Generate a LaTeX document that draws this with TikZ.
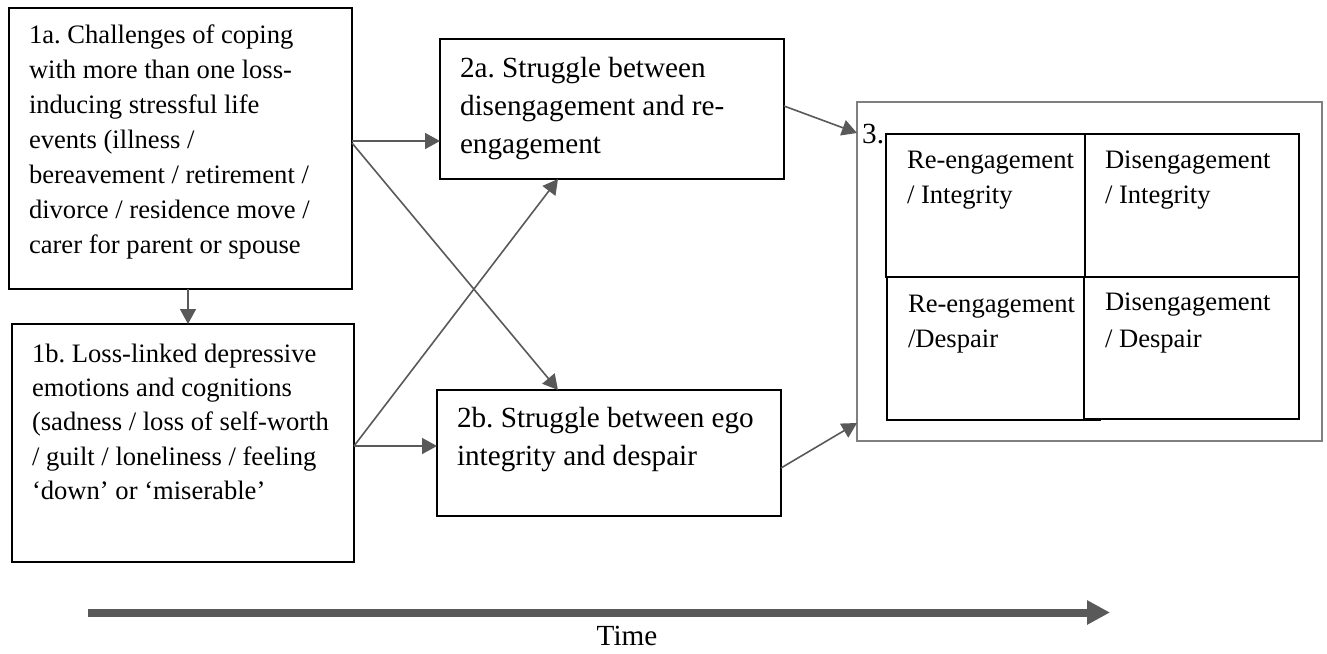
\documentclass[tikz,border=0pt]{standalone}
\usepackage{fontspec}
\setmainfont{Liberation Serif}
\usetikzlibrary{arrows.meta}
\definecolor{conncol}{HTML}{595959}
\definecolor{outercol}{HTML}{7F7F7F}
\frenchspacing
\begin{document}
\begin{tikzpicture}[x=1pt,y=-1pt,
  box/.style={draw=black,line width=1.1pt,rectangle,inner sep=0pt,outer sep=0pt,anchor=north west},
  outerbox/.style={draw=outercol,line width=1.8pt,rectangle,inner sep=0pt,outer sep=0pt,anchor=north west},
  cell/.style={draw=black,line width=1.1pt,rectangle,inner sep=0pt,outer sep=0pt,anchor=north west},
  small/.style={font=\fontsize{26.6}{35.1}\selectfont,align=left,anchor=north west,inner sep=0pt,outer sep=0pt},
  big/.style={font=\fontsize{29.2}{38.3}\selectfont,align=left,anchor=north west,inner sep=0pt,outer sep=0pt},
  conn/.style={draw=conncol,line width=1.6pt,-{Triangle[length=15pt,width=16pt]}},
  timearrow/.style={draw=conncol,line width=8pt,-{Triangle[length=23pt,width=23pt]}}
]
\useasboundingbox (0,0) rectangle (1327,653);

% boxes
\node[box,minimum width=343,minimum height=281] (a1) at (9,8) {};
\node[box,minimum width=342,minimum height=238] (b1) at (12,324) {};
\node[box,minimum width=344,minimum height=140] (a2) at (440,39) {};
\node[box,minimum width=344,minimum height=126] (b2) at (437,390) {};
\node[outerbox,minimum width=465,minimum height=339] (c3) at (857,102) {};
\node[cell,minimum width=199,minimum height=143] (tl) at (886,134) {};
\node[cell,minimum width=214,minimum height=143] (tr) at (1085,134) {};
\node[cell,minimum width=197,minimum height=143] (bl) at (887,277) {};
\node[cell,minimum width=215,minimum height=142] (br) at (1084,277) {};
\draw[black,line width=1.1pt] (tl.north east) -- ++(18,0);
\draw[black,line width=1.1pt] (bl.south east) -- ++(17,0);

% texts
\node[small] (a1t) at (29,22) {\rule{0pt}{21pt}1a. Challenges of coping\\with more than one loss-\\inducing stressful life\\events (illness /\\bereavement / retirement /\\divorce / residence move /\\carer for parent or spouse};
\node[small,font=\fontsize{26.6}{34.4}\selectfont] (b1t) at (32,341) {\rule{0pt}{21pt}1b. Loss-linked depressive\\emotions and cognitions\\(sadness / loss of self-worth\\/ guilt / loneliness / feeling\\‘down’ or ‘miserable’};
\node[big] (a2t) at (460,54) {\rule{0pt}{23pt}2a. Struggle between\\disengagement and re-\\engagement};
\node[big] (b2t) at (457,404) {\rule{0pt}{23pt}2b. Struggle between ego\\integrity and despair};
\node[font=\fontsize{29.2}{38.3}\selectfont,anchor=base west,inner sep=0pt] (c3t) at (862,143) {3.};
\node[small,font=\fontsize{26.6}{35}\selectfont] (tlt) at (907,147) {\rule{0pt}{21pt}Re-engagement\\/ Integrity};
\node[small,font=\fontsize{26.6}{35}\selectfont] (trt) at (1105,147) {\rule{0pt}{21pt}Disengagement\\/ Integrity};
\node[small,font=\fontsize{26.6}{35}\selectfont] (blt) at (908,291) {\rule{0pt}{21pt}Re-engagement\\/Despair};
\node[small,font=\fontsize{26.6}{37}\selectfont] (brt) at (1105,289) {\rule{0pt}{21pt}Disengagement\\/ Despair};

% connectors
\draw[conn] (188,0 |- a1.south) -- (188,0 |- b1.north);
\draw[conn] (a1.east |- 0,141) -- (a2.west |- 0,141);
\draw[conn] (a1.east |- 0,143) -- (558,0 |- b2.north);
\draw[conn] (b1.east |- 0,446) -- (b2.west |- 0,446);
\draw[conn] (b1.east |- 0,446) -- (558,0 |- a2.south);
\draw[conn] (a2.east |- 0,106) -- (c3.west |- 0,133);
\draw[conn] (b2.east |- 0,468) -- (c3.west |- 0,423);

% time arrow
\coordinate (ts) at (88,612.5);
\coordinate (te) at (1110,612.5);
\draw[timearrow] (ts) -- (te);
\node[font=\fontsize{29.2}{35}\selectfont,anchor=base,inner sep=0pt] (time) at (627,645) {Time};
\end{tikzpicture}
\end{document}
